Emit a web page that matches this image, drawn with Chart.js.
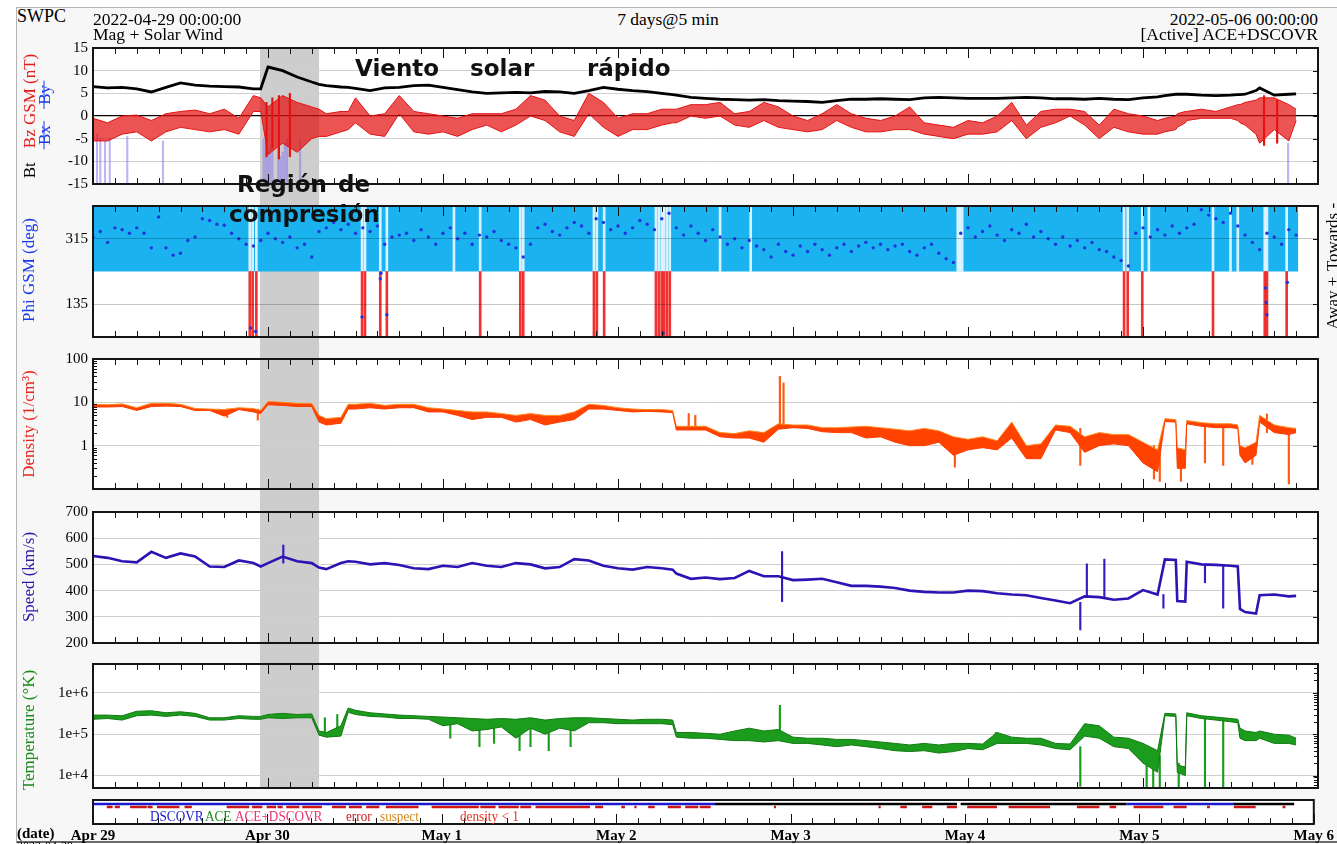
<!DOCTYPE html>
<html>
<head>
<meta charset="utf-8">
<title>Mag + Solar Wind</title>
<script src="https://cdn.jsdelivr.net/npm/chart.js@4.4.1/dist/chart.umd.min.js"></script>
<style>
  html, body { margin: 0; padding: 0; }
  body { width: 1337px; height: 844px; overflow: hidden; position: relative; background: #fff;
         font-family: "Liberation Serif", "Times New Roman", serif; color: #000; }
  #frame { position: absolute; left: 16px; top: 7px; width: 1321px; height: 833px; background: #f7f7f7;
           border-left: 1px solid #b4b4b4; border-top: 1px solid #b4b4b4; border-bottom: 2px solid #6a6a6a; }
  canvas { position: absolute; left: 0; }
  .t { position: absolute; white-space: nowrap; line-height: 1; z-index: 5; font-size: 17.5px; }
  .rot { position: absolute; white-space: nowrap; line-height: 1; z-index: 5; font-size: 17px;
         transform: translate(-50%, -50%) rotate(-90deg); }
  .ann { position: absolute; white-space: nowrap; z-index: 6; font: bold 23px/23px "DejaVu Sans", sans-serif; color: #111; }
  .strike { text-decoration: line-through; }
  .leg { position: absolute; white-space: nowrap; z-index: 5; font-size: 15px; line-height: 1;
         transform: scaleX(0.88); transform-origin: 0 0; }
</style>
</head>
<body>
<div id="frame"></div>

<!-- header -->
<div class="t" style="left:17px;top:7px;font-size:18px">SWPC</div>
<div class="t" style="left:93px;top:10.5px">2022-04-29 00:00:00</div>
<div class="t" style="left:93px;top:25.5px">Mag + Solar Wind</div>
<div class="t" style="left:668px;top:10.5px;transform:translateX(-50%)">7 days@5 min</div>
<div class="t" style="right:19px;top:10.5px">2022-05-06 00:00:00</div>
<div class="t" style="right:19px;top:25.5px">[Active] ACE+DSCOVR</div>

<!-- axis titles -->
<div class="rot" style="left:29px;top:116px"><span style="color:#000">Bt</span><span style="color:#e41c1c;margin-left:14px">Bz GSM (nT)</span></div>
<div class="rot" style="left:44px;top:115px;color:#1a3ae8"><span class="strike">&nbsp;Bx&nbsp;</span><span class="strike" style="margin-left:12px">&nbsp;By&nbsp;</span></div>
<div class="rot" style="left:28px;top:270px;color:#1a3ae8">Phi GSM (deg)</div>
<div class="rot" style="left:28px;top:424px;color:#e8261e">Density (1/cm³)</div>
<div class="rot" style="left:28px;top:577px;color:#2a1aa8">Speed (km/s)</div>
<div class="rot" style="left:28px;top:730px;color:#1a8a1a">Temperature (°K)</div>
<div class="rot" style="left:1332px;top:237px">Towards -</div>
<div class="rot" style="left:1332px;top:303px">Away +</div>

<!-- annotations -->
<div class="ann" style="left:355px;top:57px">Viento</div>
<div class="ann" style="left:470px;top:57px">solar</div>
<div class="ann" style="left:587px;top:57px">rápido</div>
<div class="ann" style="left:237px;top:173px">Región</div>
<div class="ann" style="left:338px;top:173px">de</div>
<div class="ann" style="left:229px;top:203px">compresión</div>

<!-- source strip legend -->
<div class="leg" style="left:150px;top:808.5px;color:#1a1acc">DSCOVR</div>
<div class="leg" style="left:205px;top:808.5px;color:#1a8a1a">ACE</div>
<div class="leg" style="left:235px;top:808.5px;color:#e8336e">ACE+DSCOVR</div>
<div class="leg" style="left:346px;top:808.5px;color:#cc1a1a">error</div>
<div class="leg" style="left:380px;top:808.5px;color:#d4891c">suspect</div>
<div class="leg" style="left:460px;top:808.5px;color:#e8301c">density &lt; 1</div>

<div class="t" style="left:17px;top:825.5px;font-size:15px;font-weight:bold">(date)</div>
<div class="t" style="left:17px;top:840px;font-size:12px">2022-04-29</div>

<script>
// ── Data (hours since 2022-04-29 00:00 UTC) ───────────────────
const T = [0,2,4,6,8,10,12,14,16,18,
  20,22,23,24,26,28,30,31,32,34,
  35,36,38,40,42,44,46,48,50,52,
  54,56,58,60,62,64,66,68,70,72,
  74,76,78,79.5,80,82,84,86,88,90,
  92,94,96,98,100,102,104,106,108,110,
  112,114,116,118,120,122,124,126,128,130,
  132,134,136,138,140,142,144,146,147,148.5,
  148.7,149.8,150,152,154,156,157,157.3,158,159.5,
  160,162,164,165];

const bt = [6.5,6.2,6.3,6.0,5.3,6.3,7.3,6.8,6.6,6.5,
  6.4,6.0,6.0,10.8,10.0,8.6,7.5,7.0,6.7,6.4,
  6.3,6.1,5.6,6.2,6.3,6.7,6.8,6.3,5.8,5.3,
  5.0,5.1,5.2,5.1,5.4,5.3,5.0,5.6,6.3,5.9,
  5.6,5.4,5.0,4.7,4.6,4.1,3.9,3.7,3.6,3.5,
  3.6,3.4,3.3,3.2,3.0,3.4,3.7,3.7,3.8,3.7,
  3.6,4.0,4.1,4.0,3.9,3.9,3.9,4.0,4.1,4.0,
  3.8,3.8,3.7,3.9,3.7,3.6,4.0,4.2,4.5,4.8,
  4.8,4.8,4.8,4.6,4.5,4.6,4.7,4.7,4.8,5.6,
  6.2,4.6,4.8,4.9];

const bzLo = [-5.5,-5.5,-4.0,-3.5,-5.5,-3.5,-2.5,-3.0,-3.5,-3.0,
  -4.0,1.0,1.0,-8.5,-6.0,-8.0,-5.0,-4.5,-4.5,-3.5,
  -3.0,-1.5,-4.0,-4.5,0.5,-3.5,-4.0,-3.5,-4.5,-3.0,
  -2.0,-3.5,-2.0,0.0,-1.0,-3.5,-4.5,0.5,-2.5,-4.5,
  -3.0,-3.0,-2.0,-1.5,-1.5,0.0,-0.5,0.0,-2.0,-2.5,
  -1.0,-2.5,-3.0,-3.5,-3.0,-1.0,-2.5,-3.5,-3.5,-3.0,
  -3.0,-4.0,-4.5,-5.0,-4.0,-4.0,-3.5,-1.0,-5.0,-2.5,
  -1.5,0.0,-2.0,-5.0,-2.5,-3.5,-4.0,-4.0,-3.5,-3.0,
  -2.5,-1.5,-1.0,-0.5,-0.5,-0.5,-1.0,-1.5,-2.0,-4.0,
  -6.0,-3.0,-5.5,-1.0];

const bzHi = [-0.5,-1.5,0.0,0.2,-1.0,0.5,1.0,1.3,0.5,1.5,
  -0.5,4.5,4.0,2.0,4.5,3.0,2.0,1.5,0.5,1.0,
  1.0,4.0,0.0,0.5,4.5,1.0,0.5,0.0,-0.5,0.5,
  0.5,0.5,1.5,4.5,3.5,0.0,-1.0,5.0,3.0,-0.5,
  0.5,0.5,1.5,1.5,1.5,2.5,2.5,3.0,0.5,1.0,
  3.0,2.0,0.0,-1.0,0.5,2.5,0.5,-0.5,-1.0,0.0,
  2.0,-1.5,-2.0,-2.5,-1.0,-1.5,0.0,3.0,-2.0,1.0,
  1.5,1.5,1.0,-2.0,1.5,0.5,0.0,-1.0,-0.5,0.0,
  0.5,1.0,1.0,1.5,1.0,2.0,2.5,2.5,3.0,3.5,
  4.0,4.0,2.5,1.5];

const densLo = [7.8,7.8,8.0,6.5,8.0,8.2,8.0,6.5,6.5,4.8,
  6.8,6.0,5.5,8.8,8.5,8.0,8.0,3.5,3.0,3.3,
  7.0,7.0,7.5,7.0,7.5,7.5,6.0,6.0,5.0,4.0,
  4.5,4.5,3.5,4.0,3.0,3.5,4.0,7.0,7.0,6.5,
  6.0,6.2,6.0,5.8,2.3,2.3,2.3,1.6,1.5,1.5,
  1.2,2.4,2.6,2.5,2.1,2.0,2.0,1.5,1.6,1.2,
  1.0,1.0,1.2,0.6,0.8,0.9,0.8,1.5,0.5,0.5,
  2.3,2.0,0.7,1.0,1.1,1.0,0.4,0.25,3.6,3.5,
  0.3,0.3,3.2,2.8,2.6,2.6,2.5,0.6,0.4,0.6,
  3.5,2.0,1.8,2.0];

const densHi = [9.0,8.8,9.2,7.5,9.5,9.5,9.0,7.2,7.0,6.8,
  7.5,7.2,6.5,10.5,10.0,9.5,9.5,5.0,4.2,4.5,
  9.0,9.0,9.5,8.5,9.0,9.0,7.5,7.0,6.5,6.0,
  6.0,5.5,5.0,5.5,5.0,5.0,6.0,9.0,8.5,7.5,
  7.0,6.8,6.8,6.5,2.8,2.8,2.8,2.0,1.9,2.2,
  2.0,3.2,3.0,3.0,2.6,2.6,2.7,2.8,2.6,2.4,
  2.2,2.5,2.2,1.6,1.4,1.6,1.3,3.5,1.0,1.1,
  3.0,2.8,1.6,2.0,1.8,1.8,1.2,0.8,4.2,4.0,
  0.9,0.8,3.8,3.4,3.2,3.2,3.0,1.0,0.9,1.2,
  5.0,3.0,2.6,2.5];

const speed = [532,525,512,508,548,525,542,530,492,490,
  515,505,492,505,530,512,505,488,482,505,
  512,510,500,505,498,485,482,495,490,505,
  495,490,505,500,485,490,520,515,495,485,
  480,490,485,480,465,445,450,444,448,475,
  455,455,440,442,445,432,418,418,415,410,
  400,395,393,393,400,398,390,385,382,372,
  362,352,378,375,365,370,402,385,519,517,
  360,358,510,500,498,495,492,330,318,312,
  382,385,378,380];

const tempLo = [2.3e5,2.4e5,2.2e5,2.8e5,2.9e5,2.7e5,2.9e5,2.7e5,2.2e5,2.2e5,
  2.4e5,2.3e5,2.3e5,2.5e5,2.4e5,2.5e5,2.5e5,9.5e4,8.5e4,9.0e4,
  3.4e5,3.0e5,2.7e5,2.6e5,2.4e5,2.4e5,2.3e5,1.6e5,1.8e5,1.2e5,
  1.3e5,1.5e5,8.0e4,1.4e5,1.0e5,1.4e5,1.2e5,1.9e5,1.9e5,1.8e5,
  1.8e5,1.8e5,1.8e5,1.7e5,8.5e4,8.0e4,8.0e4,7.5e4,7.0e4,7.0e4,
  6.5e4,7.0e4,6.0e4,6.0e4,5.5e4,5.0e4,5.5e4,5.0e4,4.5e4,4.0e4,
  3.8e4,4.0e4,3.5e4,3.8e4,4.5e4,4.2e4,6.0e4,6.0e4,6.0e4,5.5e4,
  4.5e4,4.2e4,9.0e4,8.0e4,5.0e4,4.5e4,2.0e4,1.2e4,2.8e5,2.7e5,
  1.2e4,1.0e4,2.8e5,2.4e5,2.2e5,2.0e5,1.9e5,8.0e4,7.0e4,7.0e4,
  8.0e4,6.0e4,6.0e4,5.5e4];

const tempHi = [2.9e5,2.9e5,2.8e5,3.6e5,3.7e5,3.3e5,3.5e5,3.2e5,2.5e5,2.5e5,
  2.8e5,2.7e5,2.7e5,3.0e5,3.2e5,3.0e5,3.1e5,1.2e5,1.1e5,1.6e5,
  4.3e5,3.8e5,3.3e5,3.1e5,2.9e5,2.8e5,2.7e5,2.6e5,2.5e5,2.4e5,
  2.3e5,2.4e5,2.3e5,2.5e5,2.2e5,2.4e5,2.5e5,2.5e5,2.4e5,2.3e5,
  2.2e5,2.3e5,2.3e5,2.2e5,1.1e5,1.1e5,1.05e5,1.0e5,1.2e5,1.4e5,
  1.2e5,1.3e5,8.5e4,8.0e4,8.0e4,7.5e4,7.5e4,7.0e4,6.5e4,6.0e4,
  5.5e4,6.0e4,5.5e4,6.0e4,6.0e4,5.8e4,1.1e5,8.5e4,8.0e4,8.0e4,
  6.0e4,5.8e4,1.8e5,1.6e5,8.5e4,8.0e4,6.0e4,4.0e4,3.2e5,3.1e5,
  1.8e4,1.6e4,3.3e5,2.8e5,2.6e5,2.4e5,2.3e5,1.4e5,1.2e5,1.1e5,
  1.2e5,1.0e5,9.5e4,8.0e4];

// short excursions
const bzSpikeHours = [23.8, 24.6, 25.5, 27.0, 160.6, 162.4];
const bzSpikeLo    = [-9.0, -7.0, -9.5, -9.0, -6.5, -6.0];
const bzSpikeHi    = [3.0, 4.0, 4.5, 5.0, 4.5, 3.5];

const byHours = [0.55,1.0,1.65,2.3,4.7,9.6,23.4,23.7,24.0,24.3,24.6,25.4,25.7,26.0,26.3,26.6,28.4,163.9];
const byTop   = [-4,-5,-5.5,-5,-4.5,-5.5,-5,-6,-8,-7,-5,-7,-9,-8,-6,-5,-5,-6];

const densSpikeHours = [18.4,22.6,81.7,82.6,94.2,94.7,118.2,135.4,145.5,146.3,149.2,152.5,155.0,159.0,161.0,164.0];
const densSpikeLo    = [4.5,3.9,2.6,2.6,2.8,2.8,0.32,0.35,0.17,0.15,0.15,0.4,0.35,0.37,2.0,0.13];
const densSpikeHi    = [7.0,7.0,5.5,5.0,40,28,1.2,2.5,1.0,0.8,0.8,3.2,3.0,1.0,5.4,2.2];

const speedSpikeHours = [26.1, 94.5, 135.4, 136.3, 138.7, 146.8, 152.5, 155.0];
const speedSpikeLo    = [505, 358, 250, 378, 375, 333, 430, 333];
const speedSpikeHi    = [574, 549, 355, 502, 520, 385, 500, 495];

const tempSpikeHours = [31.8,33.5,49,53,55,58.5,60,62.5,65.5,94.2,123.8,135.4,144.5,145.4,146.3,148.9,152.5,155.0];
const tempSpikeLo    = [9e4,1e5,8e4,5e4,6e4,4e4,5e4,4e4,5e4,1e5,6e4,5.5e3,5e3,5e3,5e3,5e3,5e3,5e3];
const tempSpikeHi    = [2.5e5,3e5,2e5,2e5,2e5,2e5,2e5,2e5,2e5,5e5,1.1e5,5e4,5e4,4e4,3e4,2e4,2.5e5,2.2e5];

// Phi GSM, hourly
const phiHours = Array.from({ length: 166 }, (_, i) => i);
const phi = [320,335,305,345,340,330,345,330,290,375,
  290,270,275,310,320,370,365,355,352,330,
  315,300,295,310,330,315,305,320,290,300,
  265,335,345,360,340,355,330,345,335,350,
  300,320,325,330,310,340,320,300,330,345,
  315,330,300,325,320,335,310,300,290,265,
  300,345,355,335,325,345,360,350,330,370,
  360,340,350,330,345,365,355,340,370,385,
  345,325,350,330,310,340,320,300,315,290,
  310,295,285,265,300,280,270,295,280,300,
  285,270,290,300,280,295,305,290,300,285,
  295,300,280,270,290,300,275,260,250,330,
  345,320,335,350,325,310,340,330,355,320,
  335,315,300,320,295,310,290,305,285,280,
  265,255,240,330,345,320,340,325,350,330,
  345,355,395,380,370,360,385,350,325,305,
  285,330,320,300,340,325];
const awayDotHours = [21.6, 22.3, 36.9, 39.4, 39.5, 40.3, 78.2, 160.8, 160.9, 161.0, 163.8];
const awayDotPhi   = [70, 60, 100, 205, 220, 106, 55, 180, 140, 106, 195];
const awayHours = [21.5,21.9,22.4,36.9,37.3,39.4,40.3,53.1,58.6,59.0,68.7,69.1,70.1,
  77.2,77.6,78.0,78.3,78.7,79.1,141.4,141.9,143.9,153.6,160.7,161.0,163.7];
const bandGapHours = [49.5, 86.0, 90.2, 118.6, 118.9, 119.2, 144.8, 156.0, 157.0];
const dataEnd = 165.3;

// source / quality strip
const srcStart = [0, 85.6, 119.4, 142.2, 156.9];
const srcEnd   = [85.6, 118.9, 142.2, 156.9, 165.3];
const srcName  = ['DSCOVR', 'other', 'other', 'DSCOVR', 'other'];
const errStart = [1.9,3.0,5.1,7.5,8.8,12.6,18.4,21.9,23.9,25.4,26.6,28.8,32.9,35.2,37.6,40.3,42.1,46.6,53.3,55.8,
  58.8,60.9,69.1,72.7,74.5,76.4,79.1,81.5,83.5,93.7,108.1,111.1,114.1,117.5,120.3,126.0,135.4,139.9,143.2,148.7,
  153.3,157.0,163.7];
const errEnd   = [2.7,3.7,7.4,8.2,11.9,13.6,21.5,23.3,25.2,26.1,28.4,31.5,34.8,37.0,39.4,42.1,44.8,53.1,55.4,58.6,
  60.3,68.4,70.2,73.2,74.8,77.3,80.9,83.3,85.0,94.0,108.4,112.0,115.5,118.9,124.4,131.7,138.5,140.8,147.3,150.5,
  153.7,160.0,164.1];

// compression region
const shadeFrom = 22.9, shadeTo = 31.0;

// axes
const dayHours  = [0, 24, 48, 72, 96, 120, 144, 168];
const dayLabels = ['Apr 29', 'Apr 30', 'May 1', 'May 2', 'May 3', 'May 4', 'May 5', 'May 6'];
const phiTicks  = [135, 315];
const densTickVals = [1, 10, 100];
const densTickText = ['1', '10', '100'];
const tempTickVals = [1e4, 1e5, 1e6];
const tempTickText = ['1e+4', '1e+5', '1e+6'];

// ── Layout ────────────────────────────────────────────────────
const W = 1337, PLOT_L = 93, PLOT_R = 1318;
const SHADE = '#cdcdcd';
const tickFont = { family: 'Liberation Serif', size: 15 };

const decor = {
  id: 'decor',
  beforeDraw(chart, args, o) {
    const { ctx, chartArea: a } = chart;
    const x = chart.scales.x;
    ctx.save();
    ctx.fillStyle = '#ffffff';
    ctx.fillRect(a.left, a.top, a.right - a.left, a.bottom - a.top);
    if (o.shade) {
      const x0 = x.getPixelForValue(shadeFrom), x1 = x.getPixelForValue(shadeTo);
      const y0 = o.shade === 'top' ? a.top : 0;
      const y1 = o.shade === 'bottom' ? a.bottom : chart.height;
      ctx.fillStyle = SHADE;
      ctx.fillRect(x0, y0, x1 - x0, y1 - y0);
    }
    ctx.restore();
  },
  afterDraw(chart, args, o) {
    const { ctx, chartArea: a } = chart;
    const x = chart.scales.x, y = chart.scales.y;
    ctx.save();
    ctx.strokeStyle = '#111';
    ctx.lineWidth = 1;
    ctx.beginPath();
    for (let h = 0; h <= 168; h += 3) {
      const px = Math.round(x.getPixelForValue(h)) + 0.5;
      const len = h % 24 === 0 ? 10 : 6;
      if (o.topTicks !== false) { ctx.moveTo(px, a.top); ctx.lineTo(px, a.top + len); }
      ctx.moveTo(px, a.bottom); ctx.lineTo(px, a.bottom - len);
    }
    if (o.rightTicks) {
      y.ticks.forEach(t => {
        const py = Math.round(y.getPixelForValue(t.value)) + 0.5;
        ctx.moveTo(a.right, py); ctx.lineTo(a.right - 5, py);
      });
    }
    if (o.logMinor) {
      const xe = o.logMinor === 'left' ? a.left : a.right;
      const dir = o.logMinor === 'left' ? 1 : -1;
      for (let k = Math.floor(Math.log10(y.min)); k < Math.log10(y.max); k++) {
        for (let m = 2; m <= 9; m++) {
          const v = m * Math.pow(10, k);
          if (v < y.min || v > y.max) continue;
          const py = Math.round(y.getPixelForValue(v)) + 0.5;
          ctx.moveTo(xe, py); ctx.lineTo(xe + dir * 4, py);
        }
      }
    }
    ctx.stroke();
    ctx.lineWidth = 2;
    ctx.strokeStyle = '#151515';
    ctx.strokeRect(a.left, a.top, a.right - a.left, a.bottom - a.top);
    ctx.restore();
  }
};

const pts  = ys => T.map((t, i) => ({ x: t, y: ys[i] }));
const bars = (hours, lo, hi, color, width, order) => ({
  type: 'bar',
  data: hours.map((h, i) => ({ x: h, y: [lo[i], hi[i]] })),
  backgroundColor: color, barThickness: width, grouped: false, order
});
const band = (lo, hi, edgeLo, edgeHi, fillColor, order) => [
  { data: pts(lo), borderColor: edgeLo, borderWidth: 1, pointRadius: 0, fill: false, order },
  { data: pts(hi), borderColor: edgeHi, borderWidth: 1, pointRadius: 0, fill: '-1', backgroundColor: fillColor, order }
];

function yAxis(extra) {
  return {
    ...extra,
    afterFit: s => { s.width = PLOT_L; },
    border: { display: false },
    ticks: { font: tickFont, color: '#000', padding: 5, ...(extra.ticks || {}) },
    grid: { drawTicks: false, color: '#cfcfcf', ...(extra.grid || {}) }
  };
}

function panel(top, bottom, y, datasets, decorOpts, padTop = 10, padBottom = 10) {
  const cv = document.createElement('canvas');
  cv.width = W;
  cv.height = bottom - top + padTop + padBottom;
  cv.style.top = (top - padTop) + 'px';
  document.body.appendChild(cv);
  return new Chart(cv, {
    type: 'line',
    data: { datasets },
    options: {
      responsive: false, animation: false, devicePixelRatio: 1,
      layout: { padding: { left: 0, right: W - PLOT_R, top: padTop, bottom: padBottom } },
      elements: { line: { tension: 0 }, point: { radius: 0 } },
      plugins: { legend: { display: false }, tooltip: { enabled: false }, decor: decorOpts },
      scales: {
        x: { type: 'linear', min: 0, max: 168, display: false, offset: false },
        y: yAxis(y)
      }
    },
    plugins: [decor]
  });
}

// ── Bt / Bz ───────────────────────────────────────────────────
panel(48, 188, {
  min: -15, max: 15,
  ticks: { stepSize: 5 },
  grid: {
    color: c => c.tick.value === 0 ? '#000' : '#cfcfcf',
    lineWidth: c => c.tick.value === 0 ? 1.2 : 1
  }
}, [
  { data: pts(bt), borderColor: '#000', borderWidth: 2.8, pointRadius: 0, order: 0 },
  ...band(bzLo, bzHi, '#e51212', '#e51212', 'rgba(229,18,18,0.72)', 1),
  bars(bzSpikeHours, bzSpikeLo, bzSpikeHi, '#e51212', 1.5, 1),
  bars(byHours, byTop, byHours.map(() => -15), 'rgba(140,120,235,0.55)', 1.5, 3)
], { shade: 'top', rightTicks: true }, 18, 10);

// ── Phi ───────────────────────────────────────────────────────
panel(202, 341, {
  min: 45, max: 405,
  afterBuildTicks: s => { s.ticks = phiTicks.map(v => ({ value: v })); },
  grid: { color: 'rgba(0,0,0,0.22)', z: 1 }
}, [
  { data: phiHours.map((h, i) => ({ x: h, y: phi[i] })), showLine: false,
    pointRadius: 1.7, pointBackgroundColor: '#2233dd', pointBorderWidth: 0, order: 0 },
  { data: awayDotHours.map((h, i) => ({ x: h, y: awayDotPhi[i] })), showLine: false,
    pointRadius: 1.7, pointBackgroundColor: '#2233dd', pointBorderWidth: 0, order: 0 },
  bars(awayHours, awayHours.map(() => 45), awayHours.map(() => 225), 'rgba(240,28,28,0.9)', 2, 1),
  bars(awayHours.concat(bandGapHours), awayHours.concat(bandGapHours).map(() => 225),
       awayHours.concat(bandGapHours).map(() => 405), 'rgba(228,245,255,0.95)', 2, 2),
  { data: [{ x: 0, y: 405 }, { x: dataEnd, y: 405 }], borderWidth: 0, pointRadius: 0,
    fill: { value: 225 }, backgroundColor: '#1ab3f0', order: 5 }
], { shade: 'full', rightTicks: true });

// ── Density ───────────────────────────────────────────────────
panel(355, 493, {
  type: 'logarithmic', min: 0.1, max: 100,
  afterBuildTicks: s => { s.ticks = densTickVals.map(v => ({ value: v })); },
  ticks: { callback: (v, i) => densTickText[i] }
}, [
  ...band(densLo, densHi, '#ff3c00', '#ff8a1c', '#ff4200', 0),
  bars(densSpikeHours, densSpikeLo, densSpikeHi, '#ff5a10', 1.5, 1)
], { shade: 'full', rightTicks: true, logMinor: 'left' });

// ── Speed ─────────────────────────────────────────────────────
panel(508, 647, {
  min: 200, max: 700,
  ticks: { stepSize: 100 }
}, [
  { data: pts(speed), borderColor: '#2a14b4', borderWidth: 2.6, pointRadius: 0, order: 0 },
  bars(speedSpikeHours, speedSpikeLo, speedSpikeHi, '#3a1ac0', 1.5, 1)
], { shade: 'full', rightTicks: true });

// ── Temperature ───────────────────────────────────────────────
panel(660, 800, {
  type: 'logarithmic', min: 5e3, max: 5e6,
  afterBuildTicks: s => { s.ticks = tempTickVals.map(v => ({ value: v })); },
  ticks: { callback: (v, i) => tempTickText[i] }
}, [
  ...band(tempLo, tempHi, '#137a13', '#137a13', '#1c9c1c', 0),
  bars(tempSpikeHours, tempSpikeLo, tempSpikeHi, '#1c9c1c', 1.5, 1)
], { shade: 'bottom', rightTicks: true, logMinor: 'right' }, 10, 2);

// ── Source / quality strip ───────────────────────────────────
const SRC_ROW = 4, ERR_ROW = 7;
const srcColor = { DSCOVR: '#1a1acc', ACE: '#1a8a1a', other: '#000' };
const stripSets = srcStart.map((s, i) => ({
  data: [{ x: s, y: SRC_ROW }, { x: srcEnd[i], y: SRC_ROW }],
  borderColor: srcColor[srcName[i]], borderWidth: 2.5, pointRadius: 0
}));
stripSets.push({
  data: errStart.flatMap((s, i) => [{ x: s, y: ERR_ROW }, { x: errEnd[i], y: ERR_ROW }, { x: errEnd[i], y: null }]),
  borderColor: '#cc1414', borderWidth: 2.5, pointRadius: 0, spanGaps: false
});

(() => {
  const cv = document.createElement('canvas');
  cv.width = W; cv.height = 46;
  cv.style.top = '798px';
  document.body.appendChild(cv);
  new Chart(cv, {
    type: 'line',
    data: { datasets: stripSets },
    options: {
      responsive: false, animation: false, devicePixelRatio: 1,
      layout: { padding: { left: PLOT_L, right: W - PLOT_R, top: 2, bottom: 0 } },
      plugins: { legend: { display: false }, tooltip: { enabled: false }, decor: { topTicks: false } },
      scales: {
        x: {
          type: 'linear', min: 0, max: 168, offset: false,
          grid: { display: false, drawTicks: false }, border: { display: false },
          afterBuildTicks: s => { s.ticks = dayHours.map(v => ({ value: v })); },
          afterFit: s => { s.height = 20; },
          ticks: { autoSkip: false, maxRotation: 0, padding: 3, color: '#000',
                   font: { family: 'Liberation Serif', size: 15, weight: 'bold' },
                   callback: (v, i) => dayLabels[i] }
        },
        y: { min: 0, max: 24, reverse: true, display: false }
      }
    },
    plugins: [decor]
  });
})();
</script>
</body>
</html>
